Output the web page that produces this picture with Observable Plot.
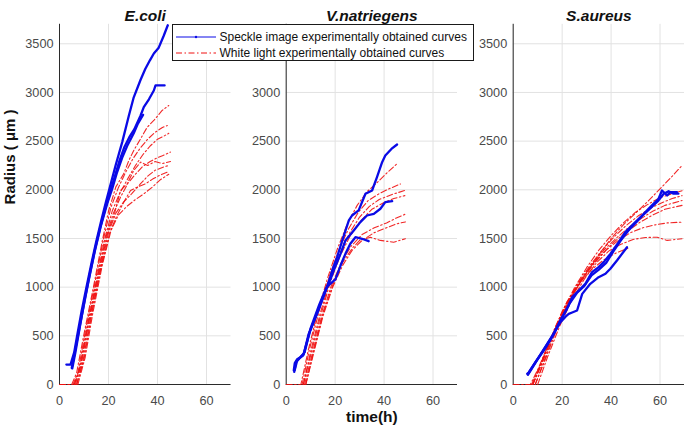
<!DOCTYPE html>
<html>
<head>
<meta charset="utf-8">
<script src="https://cdn.jsdelivr.net/npm/d3@7"></script>
<script src="https://cdn.jsdelivr.net/npm/@observablehq/plot@0.6"></script>
<style>
  body { margin: 0; background: #fff; }
  #chart { position: relative; width: 685px; height: 431px; background: #fff; overflow: hidden; font-family: "Liberation Sans", Arial, sans-serif; }
  #chart svg { position: absolute; top: 0; }
  #legend { position: absolute; left: 171.5px; top: 24px; width: 302.5px; height: 37px; box-sizing: border-box; border: 1px solid #1a1a1a; background: #fff; font-size: 12px; color: #111; }
  #legend .row { position: absolute; left: 0; height: 16px; width: 100%; }
  #legend .row svg { position: absolute; left: 3px; top: 0; }
  #legend .row span { position: absolute; left: 47px; top: 1px; white-space: nowrap; line-height: 14px; }
</style>
</head>
<body>
<div id="chart"></div>
<script>
// ---------- data ----------
const panelTitles = ["E.coli", "V.natriegens", "S.aureus"];
const seriesNames = ["Speckle image experimentally obtained curves", "White light experimentally obtained curves"];
const xTicks = [0, 20, 40, 60];
const yTicks = [0, 500, 1000, 1500, 2000, 2500, 3000, 3500];
const yTicksUnderLegend = [0, 500, 1000, 1500, 2000, 2500, 3000]; // middle panel: 3500 label is hidden by the legend box
const yLabel = "Radius ( \u03bcm )";
const xLabel = "time(h)";

// E.coli — speckle (blue) curves: [time h, radius µm]
const ecoliSpeckle = [
  [[2.8,205],[4.5,205],[6,330],[7.2,500],[9,750],[11,1000],[13,1240],[15,1470],[17,1680],[19,1880],[21,2070],[23,2260],[25.6,2490],[28.3,2760],[30.3,2950],[33.1,3130],[35,3240],[36.9,3330],[38.5,3400],[40.5,3460],[42.5,3580],[44.2,3690]],
  [[5.2,165],[6.5,330],[8.5,620],[10.5,900],[12.5,1150],[14.5,1390],[16.5,1600],[18.5,1790],[20.5,1960],[22.5,2130],[24.5,2300],[26.5,2440],[28.5,2540],[30.5,2620],[33.1,2763],[34.4,2849],[36.5,2930],[38.5,3020],[39.2,3072],[42.9,3072]],
  [[5,170],[7,430],[9.5,760],[12,1080],[14.5,1380],[17,1640],[19.5,1860],[21.5,2010],[23.5,2180],[25.6,2330],[27.6,2450],[30.3,2580],[32,2680],[34.1,2770]]
];
// E.coli — white light (red) curves
const ecoliWhite = [
  [[0,0],[5,0],[7,120],[10,520],[14,1020],[17.5,1480],[20,1780],[23,2030],[26.2,2164],[28.3,2301],[30.3,2404],[33.1,2524],[35.8,2643],[38.5,2712],[41.9,2815],[44.6,2866]],
  [[0,0],[5.5,0],[7.5,120],[10.5,540],[14.5,1050],[18,1500],[21,1820],[24,2020],[27,2180],[30,2320],[33,2430],[36,2520],[39,2590],[42,2640],[44,2660]],
  [[6,0],[8,140],[11,560],[15,1060],[18.5,1500],[21.5,1780],[24.5,1960],[28,2120],[31,2250],[34,2360],[37,2450],[40,2520],[42.5,2550],[44.6,2580]],
  [[6,0],[8.5,180],[11.5,600],[15.5,1100],[19,1520],[22,1760],[25,1930],[28,2070],[31,2160],[34,2240],[37,2290],[40,2330],[42,2350],[45.3,2387]],
  [[6.5,0],[9,220],[12,640],[16,1130],[19.5,1540],[22.5,1760],[24.9,1993],[27.6,2061],[30.3,2198],[33.1,2284],[36,2250],[39,2290],[42,2270],[45.3,2290]],
  [[7,0],[9.5,230],[12.5,660],[16.5,1160],[20,1560],[23,1760],[26,1870],[29.5,1960],[33,2060],[36,2140],[39,2200],[42,2230],[44.6,2250]],
  [[7,0],[10,260],[13,700],[17,1200],[20.5,1560],[23.5,1740],[26.6,1890],[29,1993],[31.7,2027],[35,2060],[38,2110],[41,2150],[44,2181]],
  [[7.5,0],[10.5,280],[13.5,720],[17.5,1230],[21,1580],[24,1740],[27.5,1830],[31,1900],[34.5,1960],[38,2030],[41,2100],[44.6,2160]]
];

// V.natriegens — speckle (blue)
const vibrioSpeckle = [
  [[3.1,144],[3.5,220],[4.5,260],[5.8,281],[7.2,315],[9.2,520],[12.6,726],[16.7,1000],[18.8,1171],[20.8,1308],[22.9,1479],[25.6,1685],[26.9,1736],[29.6,1788],[32.4,1959],[35.1,1993],[37.1,2130],[39.2,2284],[40.5,2352],[43,2420],[45.3,2465]],
  [[3.3,130],[4,230],[5.5,270],[7,300],[9.5,530],[13,760],[16,960],[18.1,1080],[19.4,1171],[22.2,1342],[24.2,1479],[27.6,1582],[30.3,1668],[33,1736],[35.8,1753],[38.5,1805],[40.5,1873],[43.3,1883]],
  [[3.5,150],[4.5,250],[6,285],[7.5,330],[10,580],[13.5,820],[16.5,1000],[20.1,1080],[22.2,1222],[24.2,1342],[26.2,1445],[28.3,1513],[31,1497],[33.7,1472]]
];
// V.natriegens — white light (red)
const vibrioWhite = [
  [[0,0],[3,0],[6,0],[9,350],[13,760],[17,1100],[21,1400],[25,1650],[29,1840],[33,1980],[37,2070],[41,2170],[45.3,2267]],
  [[6.5,0],[9.5,360],[13.5,760],[17.5,1100],[21.5,1380],[25.5,1600],[29.5,1770],[33.5,1890],[38,1960],[42,2010],[46.7,2060]],
  [[7,0],[10,340],[14,740],[18,1080],[22,1350],[26,1560],[30,1720],[34,1830],[38,1900],[43,1950],[48.7,1995]],
  [[7,0],[10,300],[14,700],[18,1050],[22,1320],[26,1520],[30,1670],[35,1800],[40,1870],[44,1910],[48.5,1940]],
  [[7.5,0],[10.5,300],[14.5,700],[18.5,1020],[22.5,1250],[26.5,1420],[31,1540],[36,1610],[41,1660],[45,1710],[48.7,1750]],
  [[8,0],[11,300],[15,700],[19,1000],[23,1220],[27,1380],[31,1480],[36,1560],[41,1610],[45,1650],[48.7,1670]],
  [[8,0],[11,320],[15,720],[19,1020],[23,1250],[27,1400],[30,1480],[34.4,1513],[38.5,1480],[43.9,1462],[48.7,1497]]
];

// S.aureus — speckle (blue)
const aureusSpeckle = [
  [[5.7,110],[6.4,126],[9.1,229],[12.5,349],[15.9,486],[19.3,657],[22,777],[24.1,897],[26.1,948],[29.5,1034],[32.2,1154],[34.9,1205],[37,1257],[39.7,1342],[43.1,1462],[45.8,1565],[49.2,1650],[52.7,1736],[56,1822],[59.4,1908],[60.8,1993],[62.9,1942],[64.2,1976],[66.9,1976]],
  [[6,100],[9,220],[12.5,360],[16,500],[19.3,640],[21.5,700],[22.7,726],[24.1,740],[26.1,760],[28.2,931],[31.5,1034],[34.9,1102],[37.7,1137],[39.7,1189],[42.4,1274],[46.5,1410]],
  [[6.2,115],[9.5,245],[13,380],[16.5,520],[20,690],[23,830],[26,940],[29,1010],[32,1120],[35,1180],[38,1250],[41,1370],[44,1480],[47,1580],[50,1660],[53,1740],[56,1810],[59,1880],[61.5,1960],[63.5,1985],[65.5,1960],[67.5,1960]]
];
// S.aureus — white light (red)
const aureusWhite = [
  [[0,0],[7,0],[10,150],[15,450],[20,720],[25,950],[30,1150],[35,1330],[40,1500],[45,1640],[50,1760],[55,1880],[60,2010],[65,2140],[69,2250]],
  [[7.5,0],[11,200],[15,450],[20,750],[25,990],[30,1200],[35,1380],[40,1530],[45,1660],[50,1770],[55,1850],[60,1920],[65,1960],[69,1990]],
  [[8,0],[11,180],[16,500],[21,790],[26,1020],[31,1210],[36,1370],[41,1510],[46,1630],[51,1730],[56,1810],[61,1870],[65,1910],[69,1940]],
  [[8,0],[12,230],[17,560],[22,830],[27,1050],[32,1230],[37,1380],[42,1500],[47,1610],[52,1700],[57,1780],[62,1840],[69,1890]],
  [[9,0],[12,200],[17,540],[22,820],[27,1040],[32,1220],[37,1360],[42,1480],[47,1580],[52,1670],[57,1740],[62,1800],[69,1840]],
  [[9,0],[13,250],[18,580],[23,860],[28,1070],[33,1240],[38,1380],[43,1480],[48,1560],[53,1610],[58,1640],[63,1660],[69,1668]],
  [[10,0],[14,280],[19,600],[24,870],[29,1080],[34,1250],[39,1370],[44,1440],[49,1490],[54,1510],[58.8,1513],[62.9,1480],[69,1497]],
  [[8,0],[12,250],[17,580],[22,850],[27,1040],[32,1180],[37,1280],[42,1350],[47,1400]]
];

// ---------- drawing ----------
const tidy = curves => curves.flatMap((c, i) => c.map(([t, r]) => ({t, r, id: i})));
const BLUE = "#0a0ae6", RED = "#f01010";
const font = "'Liberation Sans', Arial, Helvetica, sans-serif";

const layout = [
  {left: 0,   width: 232, ml: 59,   mr: 1.5, blue: ecoliSpeckle,  red: ecoliWhite,  yt: yTicks},
  {left: 232, width: 228, ml: 53.7, mr: 3,   blue: vibrioSpeckle, red: vibrioWhite, yt: yTicksUnderLegend},
  {left: 460, width: 225, ml: 52.7, mr: 1,   blue: aureusSpeckle, red: aureusWhite, yt: yTicks}
];

const chart = document.getElementById("chart");
layout.forEach((p, k) => {
  const marks = [
    Plot.gridX(xTicks, {stroke: "#e2e2e2", strokeOpacity: 1}),
    Plot.gridY(yTicks, {stroke: "#e2e2e2", strokeOpacity: 1}),
    Plot.ruleX([0], {stroke: "#2b2b2b", strokeWidth: 1}),
    Plot.ruleY([0], {stroke: "#2b2b2b", strokeWidth: 1}),
    Plot.axisX(xTicks, {tickSize: 0, tickPadding: 11, fontSize: 12.7, label: null, fill: "#4a4a4a", tickFormat: d => String(d)}),
    Plot.axisY(p.yt, {tickSize: 0, tickPadding: 6, fontSize: 12.7, label: null, fill: "#4a4a4a", tickFormat: d => String(d)}),
    Plot.line(tidy(p.red), {x: "t", y: "r", z: "id", stroke: RED, strokeWidth: 1.1, strokeDasharray: "6,2.5,1.5,2.5", strokeOpacity: 0.9}),
    Plot.line(tidy(p.blue), {x: "t", y: "r", z: "id", stroke: BLUE, strokeWidth: 2.3}),
    Plot.text([panelTitles[k]], {frameAnchor: "top", dy: -14, fontSize: 15.5, fontWeight: "bold", fontStyle: "italic", fill: "#111"})
  ];
  if (k === 0) marks.push(Plot.text([yLabel], {frameAnchor: "left", rotate: -90, dx: -49, fontSize: 15, fontWeight: "bold", fill: "#111"}));
  if (k === 1) marks.push(Plot.text([xLabel], {frameAnchor: "bottom", dy: 37, fontSize: 15.5, fontWeight: "bold", fill: "#111"}));
  const svg = Plot.plot({
    width: p.width, height: 431,
    marginLeft: p.ml, marginRight: p.mr, marginTop: 23.8, marginBottom: 47,
    x: {domain: [0, 70]},
    y: {domain: [0, 3700]},
    style: {fontFamily: font, background: "transparent", overflow: "visible"},
    marks
  });
  svg.style.left = p.left + "px";
  chart.appendChild(svg);
});

// legend
const legend = document.createElement("div");
legend.id = "legend";
const swatches = [
  `<svg width="40" height="16"><line x1="0" x2="40" y1="8" y2="8" stroke="${BLUE}" stroke-width="1"/><circle cx="20" cy="8" r="1.2" fill="${BLUE}"/></svg>`,
  `<svg width="40" height="16"><line x1="0" x2="40" y1="8" y2="8" stroke="${RED}" stroke-width="1" stroke-dasharray="6,2.5,1.5,2.5"/></svg>`
];
seriesNames.forEach((name, i) => {
  const row = document.createElement("div");
  row.className = "row";
  row.style.top = (i === 0 ? 3.5 : 20) + "px";
  row.innerHTML = swatches[i] + `<span>${name}</span>`;
  legend.appendChild(row);
});
chart.appendChild(legend);
</script>
</body>
</html>
